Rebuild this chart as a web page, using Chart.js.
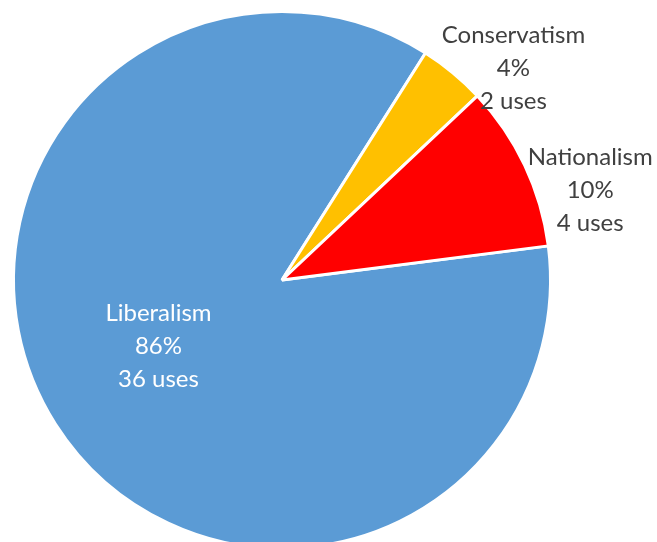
<!DOCTYPE html>
<html>
<head>
<meta charset="utf-8">
<script src="https://cdn.jsdelivr.net/npm/chart.js@4.4.1/dist/chart.umd.min.js"></script>
<style>
    html, body { margin: 0; padding: 0; background: #fff; overflow: hidden; }
    #wrap { position: absolute; left: 0; top: 0; width: 657px; height: 562px; }
</style>
</head>
<body>
<div id="wrap"><canvas id="pieChart"></canvas></div>
<script>
// 資料
const categories = ['Liberalism', 'Conservatism', 'Nationalism'];
const shares = [86, 4, 10];          // 百分比（扇形大小）
const uses = [36, 2, 4];             // 使用次數
const colors = ['#5B9BD5', '#FFC000', '#FF0000'];

// 標籤位置（以半徑為單位，相對圓心）
const labelSpots = [
    { fx: -0.46, fy: 0.245, color: '#FFFFFF' },
    { fx: 0.862, fy: -0.79, color: '#404040' },
    { fx: 1.148, fy: -0.335, color: '#404040' }
];

// 自訂標籤繪製
const pieLabels = {
    id: 'pieLabels',
    afterDatasetsDraw(chart) {
        const ctx = chart.ctx;
        const arcs = chart.getDatasetMeta(0).data;
        ctx.save();
        ctx.font = '24px Lato, "Open Sans", sans-serif';
        ctx.textAlign = 'center';
        ctx.textBaseline = 'middle';
        const lineH = 33;
        arcs.forEach(function(arc, i) {
            const p = arc.getProps(['x', 'y', 'outerRadius'], true);
            const cx = p.x + labelSpots[i].fx * p.outerRadius;
            const cy = p.y + labelSpots[i].fy * p.outerRadius;
            const lines = [categories[i], shares[i] + '%', uses[i] + ' uses'];
            ctx.fillStyle = labelSpots[i].color;
            lines.forEach(function(t, k) {
                ctx.fillText(t, cx, cy + (k - 1) * lineH);
            });
        });
        ctx.restore();
    }
};

new Chart(document.getElementById('pieChart').getContext('2d'), {
    type: 'pie',
    data: {
        labels: categories,
        datasets: [{
            data: shares,
            backgroundColor: colors,
            borderColor: '#FFFFFF',
            borderWidth: 3
        }]
    },
    options: {
        responsive: true,
        maintainAspectRatio: false,
        animation: false,
        rotation: 82.7,
        layout: {
            padding: { left: 12, right: 105, top: 10, bottom: 12 }
        },
        plugins: {
            legend: { display: false },
            tooltip: { enabled: false }
        }
    },
    plugins: [pieLabels]
});
</script>
</body>
</html>
